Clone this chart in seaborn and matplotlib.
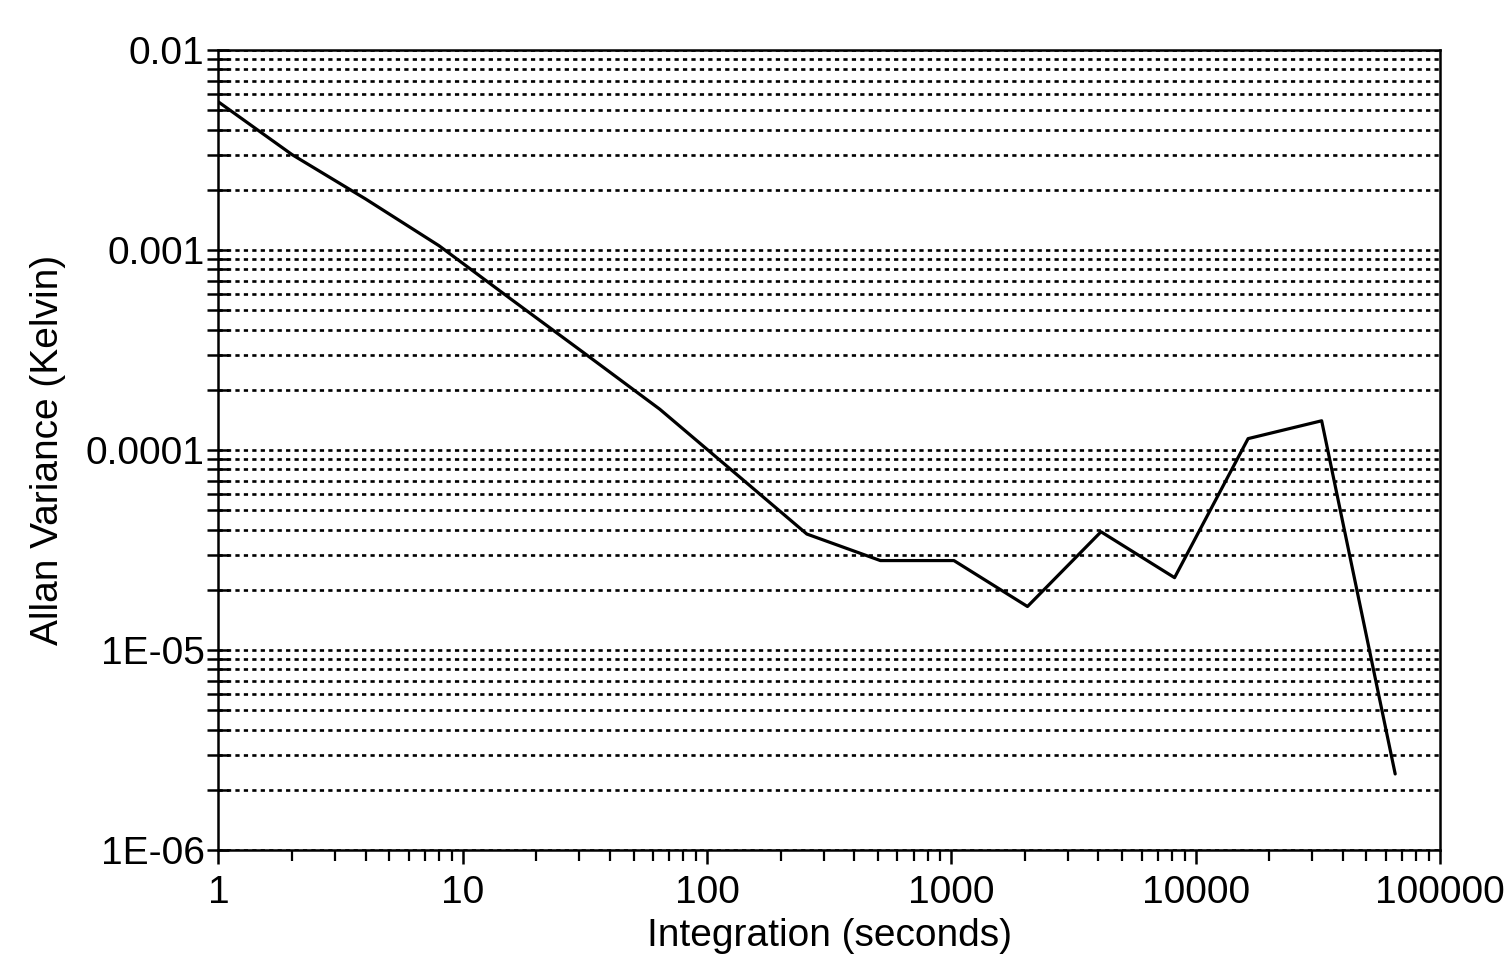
import matplotlib
matplotlib.use("Agg")
import matplotlib.pyplot as plt
import seaborn as sns
import pandas as pd
from matplotlib.ticker import FixedLocator, LogLocator, NullFormatter, FixedFormatter

# Integration time (s) and the Allan variance measured at each step
integration_s = [1, 2, 4, 8, 16, 32, 64, 128, 256, 512, 1024, 2048,
                 4096, 8192, 16384, 32768, 65536]
allan_variance = [0.0055, 0.0030, 0.0018, 0.00105, 0.00056, 0.00030,
                  0.00016, 7.8e-05, 3.8e-05, 2.8e-05, 2.8e-05, 1.65e-05,
                  3.9e-05, 2.3e-05, 1.14e-04, 1.4e-04, 2.4e-06]

x_tick_values = [1, 10, 100, 1000, 10000, 100000]
x_tick_labels = ["1", "10", "100", "1000", "10000", "100000"]
y_tick_values = [1e-06, 1e-05, 1e-04, 1e-03, 1e-02]
y_tick_labels = ["1E-06", "1E-05", "0.0001", "0.001", "0.01"]

sns.set_theme(style="white")
plt.rcParams["font.family"] = ["Liberation Sans", "DejaVu Sans"]

fig = plt.figure(figsize=(15.12, 9.77), dpi=100)
ax = fig.add_axes([0.1445, 0.13, 0.8079, 0.8188])

df = pd.DataFrame({"Integration (seconds)": integration_s,
                   "Allan Variance (Kelvin)": allan_variance})
sns.lineplot(data=df, x="Integration (seconds)", y="Allan Variance (Kelvin)",
             color="black", linewidth=2.3, ax=ax)

ax.set_xscale("log")
ax.set_yscale("log")
ax.set_xlim(1, 100000)
ax.set_ylim(1e-06, 1e-02)

ax.xaxis.set_major_locator(FixedLocator(x_tick_values))
ax.xaxis.set_major_formatter(FixedFormatter(x_tick_labels))
ax.xaxis.set_minor_locator(LogLocator(base=10, subs=range(2, 10), numticks=20))
ax.xaxis.set_minor_formatter(NullFormatter())
ax.yaxis.set_major_locator(FixedLocator(y_tick_values))
ax.yaxis.set_major_formatter(FixedFormatter(y_tick_labels))
ax.yaxis.set_minor_locator(LogLocator(base=10, subs=range(2, 10), numticks=20))
ax.yaxis.set_minor_formatter(NullFormatter())

# dotted horizontal rules at every decade and sub-decade
ax.yaxis.grid(True, which="both", color="black", linewidth=1.9,
              linestyle=(0, (1.6, 1.6)))
ax.xaxis.grid(False, which="both")

for side in ["left", "right", "top", "bottom"]:
    ax.spines[side].set_visible(True)
    ax.spines[side].set_color("black")
    ax.spines[side].set_linewidth(1.8)

ax.tick_params(axis="x", which="major", direction="out", length=10, width=1.8,
               color="black", labelcolor="black", labelsize=28, pad=8, bottom=True)
ax.tick_params(axis="x", which="minor", direction="out", length=8, width=1.6,
               color="black", bottom=True)
ax.tick_params(axis="y", which="both", direction="inout", length=16, width=1.8,
               color="black", labelcolor="black", labelsize=28, pad=2, left=True)

ax.set_xlabel("Integration (seconds)", fontsize=28, color="black", labelpad=5)
ax.set_ylabel("Allan Variance (Kelvin)", fontsize=28, color="black", labelpad=14)

fig.savefig("out.png", dpi=100, facecolor="white")
